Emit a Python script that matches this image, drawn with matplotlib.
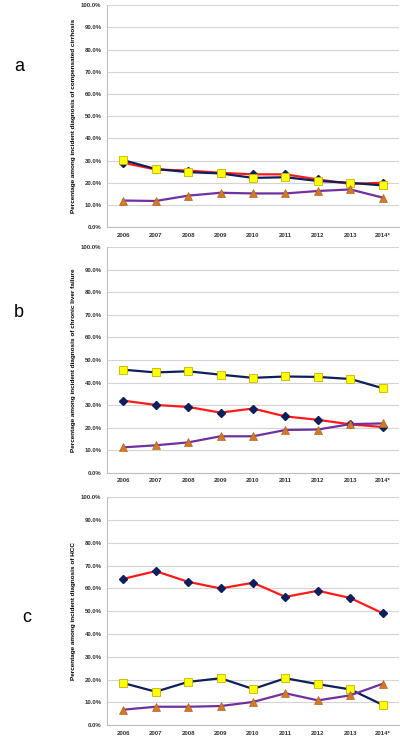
import numpy as np
import matplotlib
matplotlib.use("Agg")
import matplotlib.pyplot as plt
from matplotlib.ticker import PercentFormatter

years = ["2006", "2007", "2008", "2009", "2010", "2011", "2012", "2013", "2014*"]

# panel a: compensated cirrhosis
a_diamond = [29.0, 26.0, 25.5, 24.5, 23.8, 23.8, 21.5, 19.5, 20.0]
a_square = [30.2, 26.2, 24.8, 24.2, 22.2, 22.5, 20.8, 20.0, 18.8]
a_triangle = [12.0, 11.8, 14.2, 15.5, 15.2, 15.2, 16.3, 17.0, 13.3]

# panel b: chronic liver failure
b_diamond = [32.0, 30.1, 29.2, 26.7, 28.5, 25.0, 23.5, 21.5, 20.3]
b_square = [45.7, 44.5, 45.0, 43.5, 42.1, 42.7, 42.5, 41.6, 37.5]
b_triangle = [11.3, 12.2, 13.5, 16.2, 16.2, 19.0, 19.2, 21.6, 21.9]

# panel c: HCC
c_diamond = [64.2, 67.6, 62.9, 60.0, 62.5, 56.3, 59.0, 55.8, 49.1]
c_square = [18.5, 14.7, 19.0, 20.6, 15.9, 20.6, 18.0, 15.7, 8.9]
c_triangle = [6.8, 8.1, 8.1, 8.4, 10.2, 14.0, 10.9, 13.1, 18.2]

panels = [
    ("a", "Percentage among incident diagnosis of compensated cirrhosis",
     a_diamond, a_square, a_triangle),
    ("b", "Percentage among incident diagnosis of chronic liver failure",
     b_diamond, b_square, b_triangle),
    ("c", "Percentage among incident diagnosis of HCC",
     c_diamond, c_square, c_triangle),
]

# axes boxes (left, bottom, width, height) in figure fraction
boxes = [
    [0.2675, 0.693, 0.73, 0.300],
    [0.2675, 0.361, 0.73, 0.305],
    [0.2675, 0.020, 0.73, 0.308],
]
letter_pos = [(0.035, 0.91), (0.035, 0.578), (0.055, 0.165)]

plt.rcParams["font.family"] = ["Liberation Sans", "DejaVu Sans"]

fig = plt.figure(figsize=(4.0, 7.4), dpi=100)
x = np.arange(len(years))

for (letter, ylabel, dia, sq, tri), box, lp in zip(panels, boxes, letter_pos):
    ax = fig.add_axes(box)
    # diamonds drawn first, squares and triangles sit on top
    ax.plot(x, dia, color="#ff1a1a", linewidth=1.6, marker="D", markersize=4.2,
            markerfacecolor="#0d1f5c", markeredgecolor="#0d1f5c", zorder=3)
    ax.plot(x, sq, color="#0d1f5c", linewidth=1.6, marker="s", markersize=5.8,
            markerfacecolor="#ffff00", markeredgecolor="#c8b400",
            markeredgewidth=0.6, zorder=4)
    ax.plot(x, tri, color="#7030a0", linewidth=1.6, marker="^", markersize=5.8,
            markerfacecolor="#d07a28", markeredgecolor="#b8641c",
            markeredgewidth=0.5, zorder=5)

    ax.set_xlim(-0.5, len(years) - 0.5)
    ax.set_ylim(0, 100)
    ax.set_yticks(np.arange(0, 101, 10))
    ax.yaxis.set_major_formatter(PercentFormatter(decimals=1))
    ax.set_xticks(x)
    ax.set_xticklabels(years)
    ax.tick_params(axis="both", labelsize=4.3, length=0, pad=4)
    for lab in ax.get_xticklabels() + ax.get_yticklabels():
        lab.set_fontweight("bold")
        lab.set_color("#333333")
    ax.grid(axis="y", color="#d4d4d4", linewidth=0.8)
    ax.set_axisbelow(True)
    for side in ["top", "right"]:
        ax.spines[side].set_visible(False)
    ax.spines["left"].set_color("#bfbfbf")
    ax.spines["bottom"].set_color("#bfbfbf")
    ax.set_ylabel(ylabel, fontsize=4.6, fontweight="bold", labelpad=4)
    fig.text(lp[0], lp[1], letter, fontsize=13, ha="left", va="center")

plt.savefig("out.png", dpi=100)
